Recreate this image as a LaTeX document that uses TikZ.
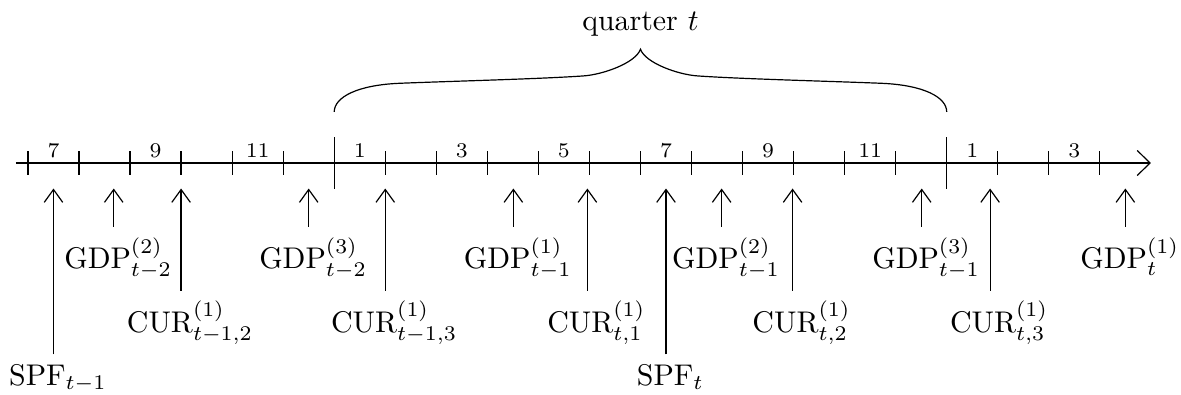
\documentclass[tikz,border=0pt]{standalone}
\usepackage{amsmath}
\usetikzlibrary{arrows.meta}
\begin{document}
\begin{tikzpicture}[x=0.6cm,y=1cm,
  monthlab/.style={font=\scriptsize, anchor=base, inner sep=0pt},
  uparrow/.style={-{Straight Barb[length=4.3pt,width=6.2pt]}},
  axisarrow/.style={-{Straight Barb[length=4.3pt,width=8.4pt]}},
  lab/.style={anchor=north}]
\useasboundingbox (-0.548,-2.716) rectangle (22.59,1.916);
% axis
\coordinate (axs) at (-0.235,0);
\coordinate (axe) at (22,0);
\draw[axisarrow] (axs) -- (axe);
% ticks
\foreach \k in {0,1,2,3,4,5,7,8,9,10,11,12,13,14,15,16,17,19,20,21}
  \draw (\k,-0.14) -- (\k,0.14);
\foreach \k in {6,18}
  \draw (\k,-0.3) -- (\k,0.3);
% month labels
\foreach \k/\m in {0/7,2/9,4/11,6/1,8/3,10/5,12/7,14/9,16/11,18/1,20/3}
  \node[monthlab] (m\k) at (\k+0.5,0.067) {\m};
% brace
\coordinate (bl) at (6,0.6);
\coordinate (bt) at (12,1.337);
\coordinate (br) at (18,0.6);
\draw (bl) .. controls (6,0.776) and (6.462,0.917) .. (7.284,0.937)
  .. controls (8.420,0.964) and (9.986,0.987) .. (10.873,1.023)
  .. controls (11.265,1.038) and (11.905,1.176) .. (bt)
  .. controls (12.095,1.176) and (12.735,1.038) .. (13.127,1.023)
  .. controls (14.014,0.987) and (15.580,0.964) .. (16.716,0.937)
  .. controls (17.538,0.917) and (18,0.776) .. (br);
\node[anchor=base] (qt) at (12,1.563) {quarter $t$};
% release arrows
\foreach \n/\x/\yb/\dx/\t in {
  s1/0.5/-2.25/1.5/{$\mathrm{SPF}_{t-1}$},
  g1/1.68/-0.75/1.5/{$\mathrm{GDP}^{(2)}_{t-2}$},
  c1/3/-1.5/3/{$\mathrm{CUR}^{(1)}_{t-1,2}$},
  g2/5.5/-0.75/1.5/{$\mathrm{GDP}^{(3)}_{t-2}$},
  c2/7/-1.5/3/{$\mathrm{CUR}^{(1)}_{t-1,3}$},
  g3/9.51/-0.75/1.5/{$\mathrm{GDP}^{(1)}_{t-1}$},
  c3/10.96/-1.5/3/{$\mathrm{CUR}^{(1)}_{t,1}$},
  s2/12.5/-2.25/1.5/{$\mathrm{SPF}_{t}$},
  g4/13.59/-0.75/1.5/{$\mathrm{GDP}^{(2)}_{t-1}$},
  c4/14.98/-1.5/3/{$\mathrm{CUR}^{(1)}_{t,2}$},
  g5/17.51/-0.75/1.5/{$\mathrm{GDP}^{(3)}_{t-1}$},
  c5/18.85/-1.5/3/{$\mathrm{CUR}^{(1)}_{t,3}$},
  g6/21.5/-0.75/1.5/{$\mathrm{GDP}^{(1)}_{t}$}}
{
  \coordinate (\n-t) at (\x,-0.3);
  \coordinate (\n-b) at (\x,\yb);
  \draw[uparrow] (\n-b) -- (\n-t);
  \node[lab] (\n) at ([xshift=\dx pt]\n-b) {\t};
}
\end{tikzpicture}
\end{document}
